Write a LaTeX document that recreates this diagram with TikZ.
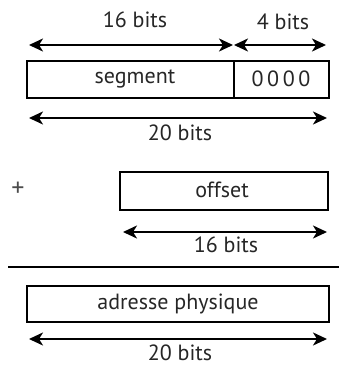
\documentclass[tikz,border=0pt]{standalone}
\usepackage{fontspec}
\setmainfont{PT Sans}
\usetikzlibrary{arrows.meta}
\begin{document}
\begin{tikzpicture}[x=1pt,y=-1pt,
  box/.style={draw, line width=2.4pt, inner sep=0pt},
  dim/.style={line width=2pt, {Stealth[length=14pt,width=13pt,inset=4pt]}-{Stealth[length=14pt,width=13pt,inset=4pt]}},
  lbl/.style={font=\fontsize{22}{24}\selectfont, text=black!85, inner sep=0pt},
  sep/.style={line width=1.8pt}]
\useasboundingbox (0,0) rectangle (339,367);
% top dimension arrows
\coordinate (a1) at (29,45); \coordinate (a2) at (233,45);
\coordinate (a3) at (234,45); \coordinate (a4) at (326,45);
\draw[dim] (a1) -- (a2);
\draw[dim] (a3) -- (a4);
\node[lbl] (l16) at (135,20) {16 bits};
\node[lbl] (l4) at (283,22) {4 bits};
% segment box
\node[box, minimum width=207pt, minimum height=37pt] (seg) at (130.5,79.5) {};
\node[box, minimum width=95pt, minimum height=37pt] (zero) at (281.5,79.5) {};
\node[lbl] (tseg) at (135,79) {segment};
\node[lbl] (tzero) at (281,79) {0\,0\,0\,0};
% 20 bits
\coordinate (b1) at (29,118); \coordinate (b2) at (327,118);
\draw[dim] (b1) -- (b2);
\node[lbl] (l20a) at (180,133) {20 bits};
% plus
\node[lbl, font=\fontsize{26}{28}\selectfont, text=black!70] (plus) at (18,189) {+};
% offset
\node[box, minimum width=208pt, minimum height=38pt] (off) at (224,191) {};
\node[lbl] (toff) at (222,190) {offset};
\coordinate (c1) at (123,232); \coordinate (c2) at (327,232);
\draw[dim] (c1) -- (c2);
\node[lbl] (l16b) at (226,245) {16 bits};
% separator
\coordinate (s1) at (8,267); \coordinate (s2) at (339,267);
\draw[sep] (s1) -- (s2);
% physical address
\node[box, minimum width=302pt, minimum height=36pt] (phys) at (178,304) {};
\node[lbl] (tphys) at (178,304) {adresse physique};
\coordinate (d1) at (29,339); \coordinate (d2) at (327,339);
\draw[dim] (d1) -- (d2);
\node[lbl] (l20b) at (180,353) {20 bits};
\end{tikzpicture}
\end{document}
